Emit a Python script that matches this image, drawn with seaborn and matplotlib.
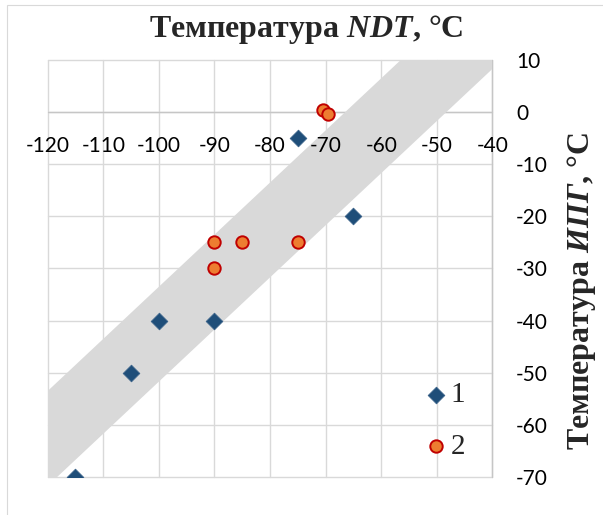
import matplotlib
matplotlib.use('Agg')
import matplotlib.pyplot as plt
import seaborn as sns
import pandas as pd
from matplotlib.patches import Rectangle

# series 1 (diamonds) - NDT vs IPG temperature
ndt_1 = [-115, -105, -100, -90, -75, -65]
ipg_1 = [-70, -50, -40, -40, -5, -20]

# series 2 (circles)
ndt_2 = [-90, -90, -85, -75, -70.5, -69.6]
ipg_2 = [-25, -30, -25, -25, 0.5, -0.3]

# grey scatter band, edges read at both ends
band_x = [-125, -35]
band_low = [-76.7, 13.3]
band_high = [-58.5, 31.5]

x_ticks = [-120, -110, -100, -90, -80, -70, -60, -50, -40]
y_ticks = [-70, -60, -50, -40, -30, -20, -10, 0, 10]
series_labels = ['1', '2']

sns.set_style('white')
plt.rcParams['font.family'] = ['Lato', 'DejaVu Sans']
plt.rcParams['axes.unicode_minus'] = False
plt.rcParams['mathtext.fontset'] = 'custom'
plt.rcParams['mathtext.it'] = 'Liberation Serif:italic:bold'
plt.rcParams['mathtext.rm'] = 'Liberation Serif:bold'

fig = plt.figure(figsize=(6.03, 5.15), dpi=100)
ax = fig.add_axes([0.0791, 0.0738, 0.7376, 0.8097])

# grid drawn by hand so the band can sit above it and below the tick labels
for xv in x_ticks:
    ax.axvline(xv, color='#d9d9d9', lw=1.0, zorder=0.5, clip_on=False)
for yv in y_ticks:
    ax.axhline(yv, color='#d9d9d9', lw=1.0, zorder=0.5, clip_on=False)
ax.axhline(0, color='#c6c6c6', lw=1.0, zorder=0.6)
ax.axvline(-40, color='#c6c6c6', lw=1.0, zorder=0.6, clip_on=False)

ax.fill_between(band_x, band_low, band_high, color='#d9d9d9', lw=0, zorder=1)

df1 = pd.DataFrame({'ndt': ndt_1, 'ipg': ipg_1})
df2 = pd.DataFrame({'ndt': ndt_2, 'ipg': ipg_2})
sns.scatterplot(data=df1, x='ndt', y='ipg', marker='D', s=72, color='#1f4e79',
                edgecolor='#3a6289', linewidth=0.6, label=series_labels[0], zorder=3, ax=ax)
sns.scatterplot(data=df2, x='ndt', y='ipg', marker='o', s=80, color='#ed7d31',
                edgecolor='#c00000', linewidth=1.4, label=series_labels[1], zorder=3, ax=ax)

ax.set_xlim(-120, -40)
ax.set_ylim(-70, 10)
for s in ax.spines.values():
    s.set_visible(False)
ax.spines['bottom'].set_position(('data', 0))
ax.yaxis.tick_right()
ax.set_xticks(x_ticks)
ax.set_yticks(y_ticks)
ax.set_xlabel('')
ax.set_ylabel('')
ax.grid(False)
ax.set_axisbelow(False)
ax.tick_params(length=0, labelsize=15, colors='black')
ax.tick_params(axis='x', pad=17)
ax.tick_params(axis='y', pad=17)

ax.legend(loc='center left', bbox_to_anchor=(0.7036, 0.1825), bbox_transform=fig.transFigure,
          frameon=False, prop={'family': 'Liberation Serif', 'size': 21},
          handletextpad=0.1, handlelength=0.8, labelspacing=0.87,
          borderpad=0, borderaxespad=0)

fig.text(0.507, 0.942, 'Температура $NDT$, °C', ha='center', va='center',
         fontsize=23, family='Liberation Serif', weight='bold')
fig.text(0.965, 0.435, 'Температура $ИПГ$, °C', ha='center', va='center', rotation=90,
         fontsize=23, family='Liberation Serif', weight='bold')

fig.add_artist(Rectangle((7 / 603, -0.1), 1.2, 1.1 - 5 / 515, transform=fig.transFigure,
                         fill=False, edgecolor='#d9d9d9', lw=0.8, clip_on=False))

fig.savefig('out.png', dpi=100)
